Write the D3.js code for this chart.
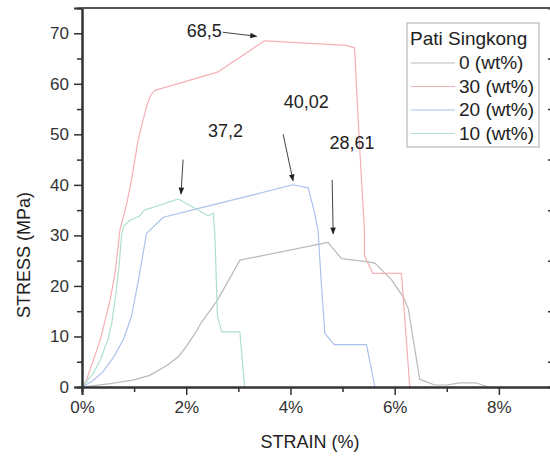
<!DOCTYPE html>
<html>
<head>
<meta charset="utf-8">
<script src="https://cdn.jsdelivr.net/npm/d3@7"></script>
<style>
  body { margin: 0; background: #fff; }
  svg { display: block; font-family: "Liberation Sans", Arial, sans-serif; }
</style>
</head>
<body>
<svg id="chart" width="550" height="456"></svg>
<script>
// strain (%) / stress (MPa)
const pati0 = [[0,0],[0.5,0.6],[1.0,1.4],[1.3,2.3],[1.62,4.2],[1.85,6],[2.0,8],[2.15,10.3],[2.3,12.9],[2.58,16.9],[2.84,21.6],[3.03,25.1],[4.72,28.61],[4.98,25.4],[5.46,24.8],[5.62,24.5],[5.94,21.2],[6.16,17.9],[6.26,15.6],[6.48,1.5],[6.77,0.4],[7.0,0.4],[7.25,0.8],[7.57,0.8],[7.8,0]];
const pati30 = [[0,0],[0.08,1.2],[0.15,3.3],[0.35,9.3],[0.54,17.2],[0.64,23],[0.73,31.2],[0.86,36.4],[0.95,41],[1.08,49],[1.24,55.6],[1.32,57.8],[1.4,58.7],[2.6,62.3],[3.5,68.5],[3.7,68.4],[5.07,67.6],[5.23,67.1],[5.33,47],[5.42,31],[5.42,26],[5.58,22.5],[6.13,22.5],[6.29,0]];
const pati20 = [[0,0],[0.2,1.2],[0.4,3],[0.6,5.8],[0.8,9.5],[0.95,14],[1.08,21],[1.24,30.4],[1.56,33.6],[2.26,35.4],[4.05,40.02],[4.34,39.4],[4.45,35],[4.53,31],[4.59,21],[4.66,10.6],[4.84,8.4],[5.46,8.4],[5.62,0]];
const pati10 = [[0,0],[0.2,2.5],[0.35,5.3],[0.5,9.5],[0.57,12.6],[0.66,19.2],[0.71,24],[0.76,30],[0.8,31.8],[0.92,33],[1.1,33.8],[1.2,35],[1.85,37.2],[2.42,33.9],[2.52,34.4],[2.55,30],[2.6,14],[2.68,10.9],[3.03,10.9],[3.12,0]];

const seriesNames = ["0 (wt%)", "30 (wt%)", "20 (wt%)", "10 (wt%)"];
const seriesData = [pati0, pati30, pati20, pati10];
const seriesColors = ["#b9b9b9", "#f4b0b6", "#aac2ec", "#aee0ca"];

const xTicks = [0, 2, 4, 6, 8];
const yTicks = [0, 10, 20, 30, 40, 50, 60, 70];

// peak labels: text anchor and arrow start/end, in data units
const peakLabels = ["68,5", "37,2", "40,02", "28,61"];
const labelPos = [[2.01, 69.3], [2.42, 49.5], [3.87, 55.3], [4.75, 47]];
const arrowFrom = [[2.7, 70.2], [1.94, 45], [3.86, 50], [4.8, 41]];
const arrowTo = [[3.35, 69.4], [1.9, 38.2], [4.05, 40.8], [4.82, 30.3]];

const svg = d3.select("#chart");
const margin = { left: 82, top: 8, right: -1, bottom: 69 };
const W = 550, H = 456;
const w = W - margin.left - margin.right;
const h = H - margin.top - margin.bottom;

const x = d3.scaleLinear().domain([0, 9]).range([0, w]);
const y = d3.scaleLinear().domain([0, 75]).range([h, 0]);

const defs = svg.append("defs");
defs.append("marker")
  .attr("id", "arr")
  .attr("viewBox", "0 0 10 10")
  .attr("refX", 9).attr("refY", 5)
  .attr("markerWidth", 9).attr("markerHeight", 7)
  .attr("markerUnits", "userSpaceOnUse")
  .attr("orient", "auto")
  .append("path").attr("d", "M0,1 L10,5 L0,9 Z").attr("fill", "#222");

const g = svg.append("g").attr("transform", "translate(" + margin.left + "," + margin.top + ")");

// curves
const line = d3.line().x(d => x(d[0])).y(d => y(d[1]));
seriesData.forEach((s, i) => {
  g.append("path")
    .datum(s)
    .attr("d", line)
    .attr("fill", "none")
    .attr("stroke", seriesColors[i])
    .attr("stroke-width", 1.2)
    .attr("stroke-linejoin", "round");
});

// axes
const axisCol = "#333";
const xAxis = g.append("g").attr("transform", "translate(0," + h + ")")
  .call(d3.axisBottom(x).tickValues(xTicks).tickFormat(d => d + "%").tickSize(8).tickPadding(6));
const xMinor = g.append("g").attr("transform", "translate(0," + h + ")")
  .call(d3.axisBottom(x).tickValues([1, 3, 5, 7]).tickFormat("").tickSize(5));
const yAxis = g.append("g")
  .call(d3.axisLeft(y).tickValues(yTicks).tickSize(8).tickPadding(5));
const yMinor = g.append("g")
  .call(d3.axisLeft(y).tickValues([5, 15, 25, 35, 45, 55, 65]).tickFormat("").tickSize(5));
const yRight = g.append("g").attr("transform", "translate(" + w + ",0)")
  .call(d3.axisLeft(y).tickValues([5, 15, 25, 35, 45, 55, 65]).tickFormat("").tickSize(3));
g.append("line").attr("x1", 0).attr("x2", w).attr("y1", 0).attr("y2", 0)
  .attr("stroke", "#555").attr("stroke-width", 2);

[xAxis, xMinor, yAxis, yMinor, yRight].forEach(a => {
  a.selectAll(".domain").attr("stroke", axisCol).attr("stroke-width", 2);
  a.selectAll(".tick line").attr("stroke", axisCol).attr("stroke-width", 1.5);
  a.selectAll("text").attr("fill", "#333").style("font-size", "17px")
    .style("font-family", "'Liberation Sans', Arial, sans-serif");
});

// axis titles
svg.append("text")
  .attr("x", 310).attr("y", 448)
  .attr("text-anchor", "middle")
  .attr("fill", "#222").style("font-size", "18px")
  .text("STRAIN (%)");
svg.append("text")
  .attr("transform", "translate(30,255) rotate(-90)")
  .attr("text-anchor", "middle")
  .attr("fill", "#222").style("font-size", "18px")
  .text("STRESS (MPa)");

// peak annotations
peakLabels.forEach((t, i) => {
  g.append("text")
    .attr("x", x(labelPos[i][0])).attr("y", y(labelPos[i][1]))
    .attr("fill", "#222").style("font-size", "18px")
    .text(t);
  g.append("line")
    .attr("x1", x(arrowFrom[i][0])).attr("y1", y(arrowFrom[i][1]))
    .attr("x2", x(arrowTo[i][0])).attr("y2", y(arrowTo[i][1]))
    .attr("stroke", "#444").attr("stroke-width", 1)
    .attr("marker-end", "url(#arr)");
});

// legend
const lg = svg.append("g").attr("transform", "translate(407,23)");
lg.append("rect").attr("width", 132).attr("height", 124)
  .attr("fill", "#fff").attr("stroke", "#aaa").attr("stroke-width", 1);
lg.append("text").attr("x", 3).attr("y", 22)
  .attr("fill", "#222").style("font-size", "19px").text("Pati Singkong");
seriesNames.forEach((n, i) => {
  const yy = 40 + i * 23.5;
  lg.append("line").attr("x1", 4).attr("x2", 48).attr("y1", yy).attr("y2", yy)
    .attr("stroke", seriesColors[i]).attr("stroke-width", 1.2);
  lg.append("text").attr("x", 52).attr("y", yy + 6)
    .attr("fill", "#222").style("font-size", "19px").text(n);
});
</script>
</body>
</html>
